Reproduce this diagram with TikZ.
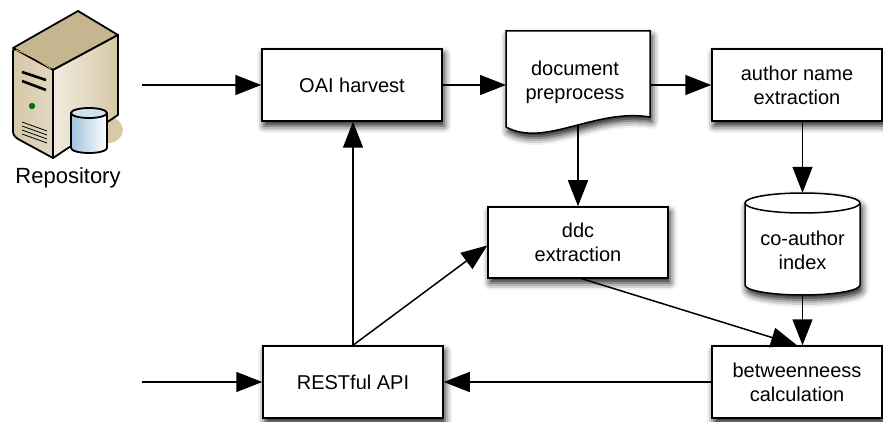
\documentclass[tikz,border=0pt]{standalone}
\usepackage{fontspec}
\setmainfont{Liberation Sans}
\usetikzlibrary{arrows.meta,shadows.blur}
\definecolor{tantop}{RGB}{198,182,144}
\definecolor{tanfront}{RGB}{214,200,168}
\definecolor{tanright}{RGB}{236,228,210}
\definecolor{tanshadow}{RGB}{216,202,164}
\definecolor{cylblue}{RGB}{160,195,220}
\begin{document}
\begin{tikzpicture}[x=1pt,y=1pt,
  shad/.style={blur shadow={shadow xshift=2pt,shadow yshift=-5pt,shadow blur radius=7pt,shadow opacity=90}},
  box/.style={draw=black,line width=1.5pt,fill=white,minimum width=180pt,minimum height=72pt,align=center,
    inner sep=0pt,font=\fontsize{20}{24}\selectfont,shad},
  txt/.style={align=center,inner sep=0pt,font=\fontsize{20}{24}\selectfont},
  arr/.style={draw=black,line width=1.5pt,-{Triangle[length=26pt,width=20pt,fill=black]}},
  icon/.style={line width=1.8pt,line join=round,draw=black}
]
\useasboundingbox (0,0) rectangle (883,421);
\clip (0,0) rectangle (883,421);

% ---------- repository icon ----------
\fill[tanshadow] (108,291) ellipse[x radius=15pt,y radius=13pt];
\path[icon,fill=tantop] (13,373) -- (78,410) -- (118,386) -- (53,351) -- cycle;
\path[icon,left color=tanfront,right color=tanfront!70!white] (13,373) -- (53,351) -- (53,263) -- (18,282) [rounded corners=3pt]-- (13,286) -- cycle;
\path[icon,left color=tanright!70!white,right color=tanfront] (53,351) -- (118,386) -- (118,306) -- (53,263) -- cycle;
\draw[brown!60,line width=0.8pt] (16,371) .. controls (30,366) and (42,359) .. (51,352);
\draw[line width=2.6pt,black] (22,349) -- (46,341);
\draw[line width=2.6pt,black] (22,340) -- (46,331);
\fill[green!45!black] (32,315) circle[radius=3.2pt];
\foreach \k in {0,1,2,3}{\draw[line width=0.8pt,black] (22,299-4*\k) -- (47,290-4*\k);}
\path[icon,left color=cylblue,right color=white,middle color=cylblue!50!white]
  (71,308) -- (71,273) arc[start angle=180,end angle=360,x radius=18pt,y radius=5pt] -- (107,308) -- cycle;
\path[icon,fill=cylblue!50!white] (89,308) ellipse[x radius=18pt,y radius=5pt];
\node[font=\fontsize{22}{26}\selectfont,inner sep=0pt] (repo) at (68,243) {Repository};

% ---------- nodes ----------
\node[box] (oai) at (352,336) {OAI harvest};
\node[box,minimum width=170pt] (author) at (797,336) {author name\\extraction};
\node[box,minimum height=71pt] (ddc) at (578,178.5) {ddc\\extraction};
\node[box] (rest) at (353,39) {RESTful API};
\node[box,minimum width=170pt] (betw) at (797,39) {betweenneess\\calculation};

% document shape
\path[draw=black,line width=1.5pt,fill=white,shad]
  (506,390) -- (650,390) -- (650,304) .. controls (595,313) and (545,273) .. (506,294) -- cycle;
\node[txt,minimum width=144pt] (doc) at (575,339) {document\\preprocess};
\coordinate (docbot) at (578,295);

% cylinder
\path[fill=white,shad] (745,218) -- (745,136)
  arc[start angle=180,end angle=360,x radius=57.5pt,y radius=10pt] -- (860,218)
  arc[start angle=0,end angle=180,x radius=57.5pt,y radius=10pt] -- cycle;
\draw[line width=1.5pt] (745,218) -- (745,136)
  arc[start angle=180,end angle=360,x radius=57.5pt,y radius=10pt] -- (860,218);
\draw[line width=1.5pt] (802.5,218) ellipse[x radius=57.5pt,y radius=10pt];
\node[minimum width=115pt,minimum height=102pt,inner sep=0pt] (coa) at (802.5,177) {};
\node[txt] (coatext) at (802.5,171) {co-author\\index};

% free ends
\coordinate (repoout) at (142,336);
\coordinate (apiin) at (142,39);

% ---------- connectors ----------
\draw[arr] (repoout) -- (oai.west);
\draw[arr] (oai.east) -- (oai.east -| 506,0);
\draw[arr] (650,336) -- (author.west);
\draw[arr] (docbot) -- (ddc.north);
\draw[arr] (author.south -| coa.north) -- (coa.north);
\draw[arr] (coa.south) -- (coa.south |- betw.north);
\draw[arr] ([xshift=4pt]ddc.south) -- (betw.north);
\draw[arr] (rest.north) -- (rest.north |- oai.south);
\draw[arr] (rest.north) -- ([yshift=-3pt]ddc.west);
\draw[arr] (betw.west) -- (rest.east);
\draw[arr] (apiin) -- (rest.west);
\end{tikzpicture}
\end{document}
